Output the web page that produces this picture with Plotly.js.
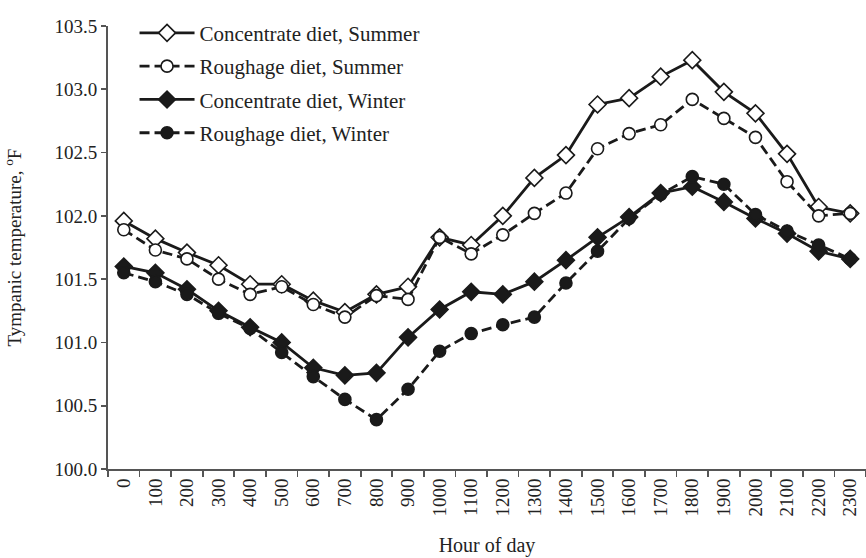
<!DOCTYPE html>
<html>
<head>
<meta charset="utf-8">
<script src="https://cdn.plot.ly/plotly-3.0.1.min.js"></script>
<style>html,body{margin:0;padding:0;background:#fff;}#chart{width:866px;height:558px;}</style>
</head>
<body>
<div id="chart"></div>
<script>
var hours = ["0","100","200","300","400","500","600","700","800","900","1000","1100","1200","1300","1400","1500","1600","1700","1800","1900","2000","2100","2200","2300"];
var concentrateSummer = [101.96,101.82,101.71,101.61,101.46,101.46,101.33,101.24,101.38,101.44,101.83,101.77,102.00,102.30,102.48,102.88,102.93,103.10,103.23,102.98,102.81,102.49,102.07,102.02];
var roughageSummer = [101.89,101.73,101.66,101.50,101.38,101.44,101.30,101.20,101.37,101.34,101.83,101.70,101.85,102.02,102.18,102.53,102.65,102.72,102.92,102.77,102.62,102.27,102.00,102.02];
var concentrateWinter = [101.60,101.55,101.42,101.25,101.12,101.00,100.80,100.74,100.76,101.04,101.26,101.40,101.38,101.48,101.65,101.83,101.99,102.18,102.23,102.11,101.98,101.86,101.72,101.66];
var roughageWinter = [101.55,101.48,101.38,101.23,101.11,100.92,100.73,100.55,100.39,100.63,100.93,101.07,101.14,101.20,101.47,101.72,101.98,102.17,102.31,102.25,102.01,101.88,101.77,101.66];
var seriesNames = ["Concentrate diet, Summer","Roughage diet, Summer","Concentrate diet, Winter","Roughage diet, Winter"];
var yTickVals = [100, 100.5, 101, 101.5, 102, 102.5, 103, 103.5];
var yTickText = ['100.0','100.5','101.0','101.5','102.0','102.5','103.0','103.5'];

function tr(y, name, dash, symbol, fill, size, grp) {
  return {
    x: hours, y: y, name: name, type: 'scatter', mode: 'lines+markers', cliponaxis: false,
    legendgroup: grp,
    line: {color: '#1a1a1a', width: 2.8, dash: dash},
    marker: {symbol: symbol, size: size, color: fill, line: {color: '#1a1a1a', width: 1.6}}
  };
}
var data = [
  tr(concentrateSummer, seriesNames[0], 'solid', 'diamond', '#ffffff', 13, 'g1'),
  tr(roughageSummer, seriesNames[1], '10px,5px', 'circle', '#ffffff', 12, 'g2'),
  tr(concentrateWinter, seriesNames[2], 'solid', 'diamond', '#1a1a1a', 13, 'g3'),
  tr(roughageWinter, seriesNames[3], '10px,5px', 'circle', '#1a1a1a', 12, 'g4')
];
var fam = '"Liberation Serif", "DejaVu Serif", serif';
var layout = {
  width: 866, height: 558,
  margin: {l: 108, r: 0, t: 26, b: 89},
  paper_bgcolor: '#ffffff', plot_bgcolor: '#ffffff',
  font: {family: fam, color: '#222', size: 18},
  showlegend: true,
  legend: {x: 0.035, y: 1.03, xanchor: 'left', yanchor: 'top', bgcolor: 'rgba(0,0,0,0)',
    font: {family: fam, size: 21, color: '#222'}, traceorder: 'grouped', tracegroupgap: 3, itemwidth: 55},
  xaxis: {
    type: 'category', tickangle: -90, tickson: 'boundaries', ticks: 'outside', ticklen: 6, tickwidth: 1.8,
    tickcolor: '#555', showline: true, linecolor: '#555', linewidth: 2, showgrid: false, zeroline: false,
    range: [-0.5, 23.5], tickfont: {family: fam, size: 19, color: '#222'},
    title: {text: 'Hour of day', font: {family: fam, size: 20, color: '#222'}, standoff: 22}
  },
  yaxis: {
    range: [100, 103.5], tickvals: yTickVals, ticktext: yTickText,
    ticks: 'outside', ticklen: 5, tickwidth: 1.8, tickcolor: '#555', showline: true, linecolor: '#555', linewidth: 2,
    showgrid: false, zeroline: false, tickfont: {family: fam, size: 19, color: '#222'},
    title: {text: 'Tympanic temperature, <sup>o</sup>F', font: {family: fam, size: 19, color: '#222'}, standoff: 28}
  }
};
Plotly.newPlot('chart', data, layout, {displayModeBar: false, staticPlot: true});
</script>
</body>
</html>
